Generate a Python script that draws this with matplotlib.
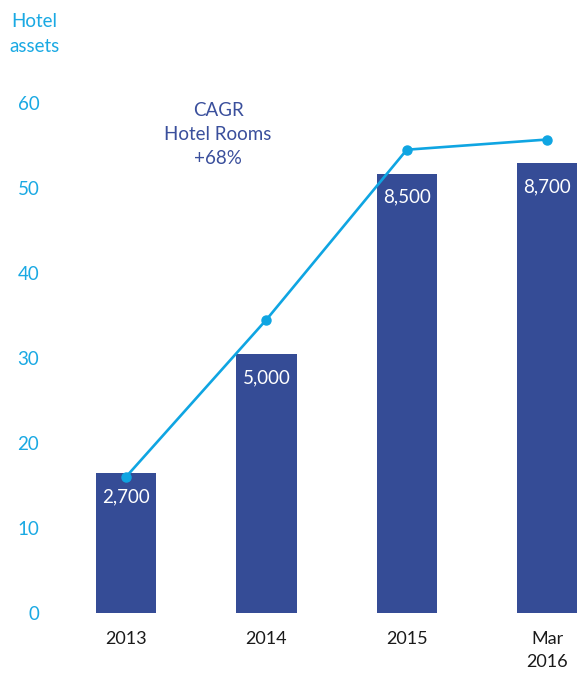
import matplotlib.pyplot as plt

plt.rcParams['font.family'] = ['Lato', 'DejaVu Sans']

# categories and series
periods = ['2013', '2014', '2015', 'Mar\n2016']
hotel_rooms = [2700, 5000, 8500, 8700]
hotel_assets = [16.0, 34.5, 54.5, 55.7]
room_labels = ['2,700', '5,000', '8,500', '8,700']
y_ticks = [0, 10, 20, 30, 40, 50, 60]

bar_color = '#354C96'
line_color = '#0FA5E2'
tick_blue = '#1AA9E3'

fig = plt.figure(figsize=(5.78, 6.78), dpi=100)
ax = fig.add_axes([56 / 578, 65.4 / 678, 522 / 578, 509.6 / 678])

x = list(range(len(periods)))

# rooms on the hidden axis, bars scaled so the top matches the assets scale
ax.bar(x, hotel_rooms, width=0.43, color=bar_color, zorder=2)
ax.set_ylim(0, 60 * 164.5)
ax.set_xlim(-0.5, 3.22)
for xi, v, lab in zip(x, hotel_rooms, room_labels):
    ax.annotate(lab, (xi, v), xytext=(0, -17), textcoords='offset points',
                ha='center', va='center', color='white', fontsize=13.5)
ax.set_yticks([])
ax.set_xticks(x)
ax.set_xticklabels(periods, fontsize=13, color='#1a1a1a', linespacing=1.55)
ax.tick_params(axis='x', length=0, pad=13)
for s in ax.spines.values():
    s.set_visible(False)

# hotel assets line on the visible left axis
ax2 = ax.twinx()
ax2.plot(x, hotel_assets, color=line_color, lw=1.9, marker='o', markersize=6.5,
         zorder=3, clip_on=False)
ax2.set_ylim(0, 60)
ax2.set_yticks(y_ticks)
ax2.yaxis.set_ticks_position('left')
ax2.tick_params(axis='y', length=0, pad=12, labelsize=13.5, labelcolor=tick_blue)
for s in ax2.spines.values():
    s.set_visible(False)

fig.text(34 / 578, 1 - 34 / 678, 'Hotel\nassets', ha='center', va='center',
         color=tick_blue, fontsize=13.5, linespacing=1.6)
fig.text(218 / 578, 1 - 135 / 678, 'CAGR\nHotel Rooms\n+68%', ha='center',
         va='center', color='#3A4F9C', fontsize=13.5, linespacing=1.5)

fig.savefig('out.png', dpi=100)
